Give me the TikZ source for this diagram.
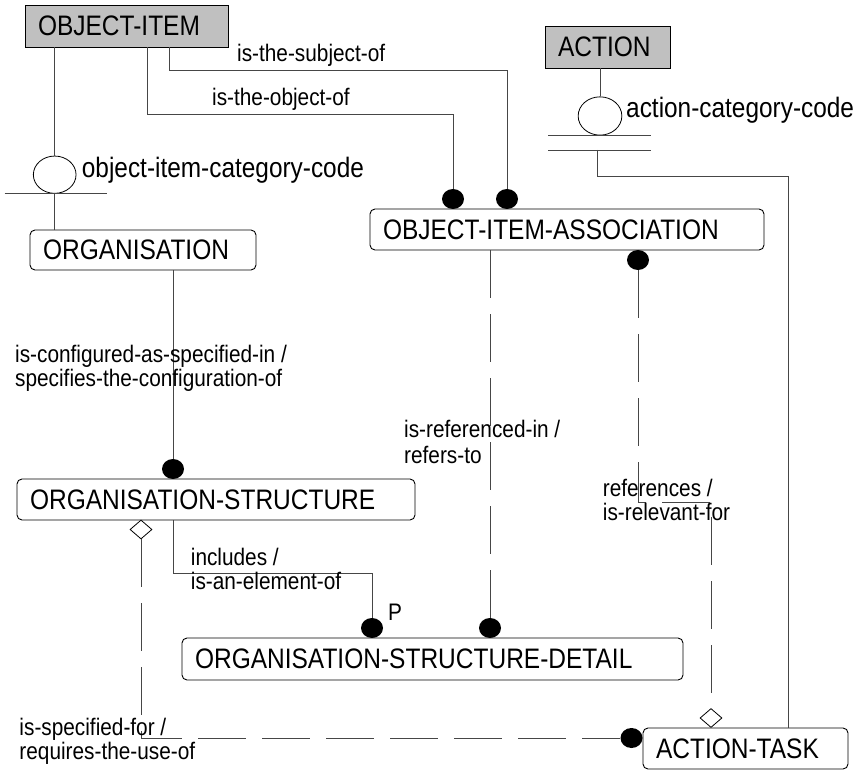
\documentclass[tikz,border=0pt]{standalone}
\usepackage{fontspec}
\setmainfont{Liberation Sans}
\usepackage{graphicx}
\usetikzlibrary{shapes.geometric}
\definecolor{linec}{RGB}{70,70,70}
\definecolor{grayfill}{RGB}{192,192,192}
\newcommand\VS[1]{\scalebox{1}[1.15]{#1}}
\newcommand\TL[1]{\scalebox{1}[1.15]{\begin{tabular}[t]{@{}l@{}}#1\end{tabular}}}
\newcommand\boxfont{\fontsize{24.5}{28}\selectfont}
\newcommand\catfont{\fontsize{24.4}{28}\selectfont}
\newcommand\labfont{\fontsize{20.8}{20}\selectfont}
\begin{document}
\begin{tikzpicture}[x=1pt,y=-1pt,
  line/.style={draw=linec, line width=0.9pt},
  dline/.style={line, dash pattern=on 48pt off 16pt},
  ent/.style={draw=black, line width=0.9pt, rounded corners=5pt, fill=white,
    inner xsep=13pt, inner ysep=0pt, align=left, font=\boxfont},
  indep/.style={ent, rounded corners=0pt, fill=grayfill},
  dotend/.style={ellipse, fill=black, inner sep=0pt, minimum width=22pt, minimum height=20pt},
  dia/.style={diamond, draw=black, line width=0.8pt, fill=white, inner sep=0pt,
    minimum width=22pt, minimum height=19pt},
  cat/.style={ellipse, draw=black, line width=0.8pt, inner sep=0pt},
  lab/.style={anchor=base west, inner sep=0pt, font=\labfont},
]
\useasboundingbox (0,0) rectangle (859,775);

% entities
\node[indep, text width=177pt, minimum height=42pt] (oi) at (126.5,26) {\VS{OBJECT-ITEM}};
\node[indep, text width=99pt, minimum height=42pt] (act) at (607.5,47) {\VS{ACTION}};
\node[ent, text width=200pt, minimum height=40pt] (org) at (143,250) {\VS{ORGANISATION}};
\node[ent, text width=368pt, minimum height=41pt] (oia) at (567,229.5) {\VS{OBJECT-ITEM-ASSOCIATION}};
\node[ent, text width=372pt, minimum height=41pt] (os) at (216,499.5) {\VS{ORGANISATION-STRUCTURE}};
\node[ent, text width=475pt, minimum height=42pt] (osd) at (432.5,659) {\VS{ORGANISATION-STRUCTURE-DETAIL}};
\node[ent, text width=179pt, minimum height=41pt] (at) at (745.5,748.5) {\VS{ACTION-TASK}};

% category symbols
\node[cat, minimum width=42.7pt, minimum height=37.3pt] (oicat) at (54.7,174.7) {};
\node[cat, minimum width=43.7pt, minimum height=38.3pt] (actcat) at (600,116) {};

% relationship ends
\node[dotend] (d1) at (453,199) {};
\node[dotend] (d2) at (507,199) {};
\node[dotend] (d3) at (638,260) {};
\node[dotend] (d4) at (173,469) {};
\node[dotend] (d5) at (372,628) {};
\node[dotend] (d6) at (490,628) {};
\node[dotend] (d7) at (631.5,738) {};
\node[dia] (dia1) at (141,529.5) {};
\node[dia] (dia2) at (711,718) {};

% category structure
\draw[line] (oi.south -| oicat) -- (oicat.north);
\draw[line] (oicat.south) -- (org.north -| oicat);
\draw[line] ([xshift=-50pt]oicat.south) -- ([xshift=52pt]oicat.south);
\draw[line] (act.south -| actcat) -- (actcat.north);
\draw[line] ([xshift=-52pt]actcat.south) -- ([xshift=51pt]actcat.south);
\coordinate (ab2) at (597.7,150);
\draw[line] (548,150) -- (651,150);
\draw[line] (ab2) -- (597.7,176.7) -- (788.3,176.7) -- (788.3,0 |- at.north);

% relationships
\draw[line] (147,0 |- oi.south) -- (147,114) -- (453,114) -- (d1.north);
\draw[line] (169,0 |- oi.south) -- (169,70) -- (507,70) -- (d2.north);
\draw[line] (173,0 |- org.south) -- (d4.north);
\draw[line] (173,0 |- os.south) -- (173,573) -- (372,573) -- (d5.north);
\draw[dline] (490,0 |- oia.south) -- (d6.north);
\draw[dline] (d3.south) -- (638,502) -- (711,502) -- (dia2.north);
\draw[dline] (dia1.south) -- (141,738) -- (d7.west);

% labels
\node[lab] (l1) at (237,62) {\VS{is-the-subject-of}};
\node[lab] (l2) at (212,106) {\VS{is-the-object-of}};
\node[lab, font=\catfont] (l3) at (81.7,177.5) {\VS{object-item-category-code}};
\node[lab, font=\catfont] (l4) at (626,118) {\VS{action-category-code}};
\node[lab] (l5) at (15,362.7) {\TL{is-configured-as-specified-in /\\specifies-the-configuration-of}};
\node[lab] (l6) at (404,437.3) {\TL{is-referenced-in /\\[1.7pt]refers-to}};
\node[lab] (l7) at (602.7,496) {\TL{references /\\is-relevant-for}};
\node[lab] (l8) at (190.7,565) {\TL{includes /\\is-an-element-of}};
\node[lab] (l9) at (388,620) {\VS{P}};
\node[lab] (l10) at (19.3,735) {\TL{is-specified-for /\\requires-the-use-of}};
\end{tikzpicture}
\end{document}
